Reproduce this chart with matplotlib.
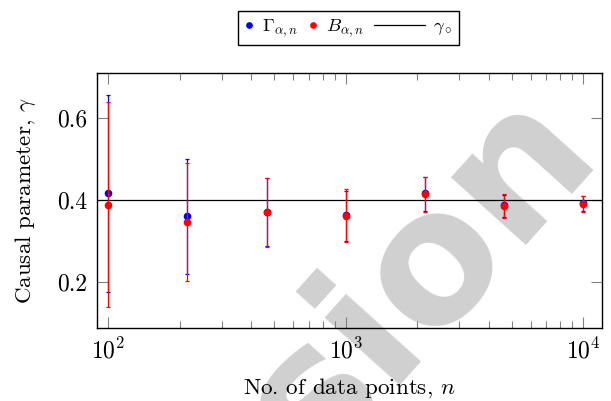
import matplotlib
matplotlib.use("Agg")
import matplotlib.pyplot as plt
import numpy as np
from matplotlib.lines import Line2D
from matplotlib.legend_handler import HandlerLine2D

plt.rcParams['font.family'] = 'serif'
plt.rcParams['font.serif'] = ['cmr10']
plt.rcParams['mathtext.fontset'] = 'cm'
plt.rcParams['axes.formatter.use_mathtext'] = True

# ---- data ----
n_points = [100, 215, 464, 1000, 2154, 4642, 10000]
gamma_mean = [0.416, 0.360, 0.371, 0.363, 0.416, 0.387, 0.392]
gamma_low = [0.176, 0.218, 0.287, 0.300, 0.373, 0.358, 0.372]
gamma_high = [0.658, 0.501, 0.455, 0.423, 0.456, 0.413, 0.410]
b_mean = [0.388, 0.346, 0.370, 0.362, 0.414, 0.386, 0.391]
b_low = [0.138, 0.203, 0.286, 0.298, 0.371, 0.357, 0.371]
b_high = [0.639, 0.490, 0.454, 0.427, 0.456, 0.414, 0.411]
gamma_true = 0.4
yticks = [0.2, 0.4, 0.6]

fig = plt.figure(figsize=(6.11, 4.01), dpi=100)
ax = fig.add_axes([97/611, 1-328/401, 505/611, (328-73.3)/401])
ax.set_facecolor('none')

# watermark (behind axes)
fig.text(458/611, 90/401, 'sion', fontsize=132, family='DejaVu Sans', weight='bold',
         color='#d0d0d0', rotation=48, rotation_mode='anchor', ha='center', va='baseline',
         zorder=-10)

gm = np.array(gamma_mean); bm = np.array(b_mean)
ax.errorbar(n_points, gm, yerr=[gm-np.array(gamma_low), np.array(gamma_high)-gm],
            fmt='o', color='blue', ms=4.5, elinewidth=0.9, capsize=1.5, capthick=0.9, zorder=3)
ax.errorbar(n_points, bm, yerr=[bm-np.array(b_low), np.array(b_high)-bm],
            fmt='o', color='red', ms=4.5, elinewidth=0.9, capsize=1.5, capthick=0.9, zorder=4)
ax.axhline(gamma_true, color='black', lw=0.9, zorder=2)

ax.set_xscale('log')
ax.set_xlim(89.6, 11990)
ax.set_ylim(0.087, 0.710)
ax.set_yticks(yticks)
ax.set_yticklabels([f'{v:.1f}' for v in yticks])
ax.tick_params(which='both', direction='in', top=True, right=True, color='#808080', width=0.8,
               labelsize=17)
ax.tick_params(which='major', length=8, pad=7)
ax.tick_params(which='minor', length=5)
ax.tick_params(axis='y', which='minor', left=False, right=False)
for s in ax.spines.values():
    s.set_linewidth(1.0)

ax.set_xlabel(r'No. of data points, $n$', fontsize=16.6)
ax.set_ylabel(r'Causal parameter, $\gamma$', fontsize=16.6)
ax.xaxis.set_label_coords(0.5, -0.19)
ax.yaxis.set_label_coords(-0.117, 0.5)


class LongLine(HandlerLine2D):
    def legend_artist(self, legend, orig_handle, fontsize, handlebox):
        handlebox.width = 2.7 * fontsize
        return super().legend_artist(legend, orig_handle, fontsize, handlebox)


h1 = Line2D([], [], ls='none', marker='o', color='blue', ms=3.8)
h2 = Line2D([], [], ls='none', marker='o', color='red', ms=3.8)
h3 = Line2D([], [], color='black', lw=0.9)
leg = fig.legend([h1, h2, h3], [r'$\Gamma_{\alpha,n}$', r'$B_{\alpha,n}$', r'$\gamma_\circ$'],
                 loc='center', bbox_to_anchor=(348.7/611, 1-28/401), ncol=3,
                 fancybox=False, edgecolor='black', framealpha=1, fontsize=13.4,
                 handlelength=0.5, handletextpad=0.45, columnspacing=0.55, borderpad=0.35,
                 borderaxespad=0, handler_map={h3: LongLine()})
leg.get_frame().set_linewidth(1.0)

fig.savefig('out.png', dpi=100)
